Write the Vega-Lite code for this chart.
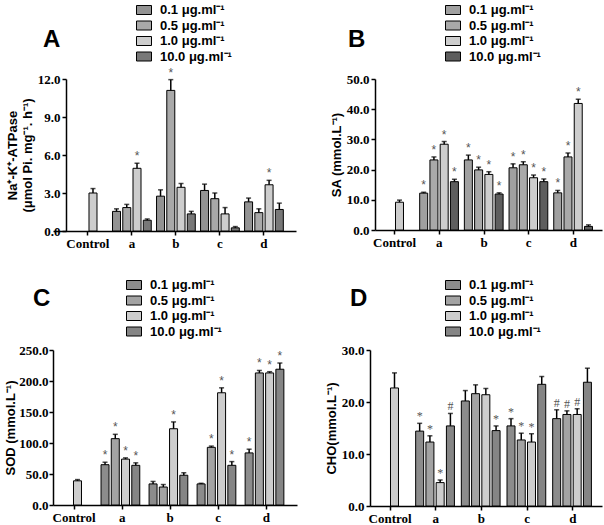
{
  "$schema": "https://vega.github.io/schema/vega-lite/v6.json",
  "padding": {"left": 4, "top": 2, "right": 2, "bottom": 0},
  "spacing": 27,
  "resolve": {"scale": {"fill": "independent"}, "legend": {"fill": "independent"}},
  "config": {
    "view": {"stroke": null},
    "axis": {"domainColor": "black", "domainWidth": 1.5, "tickColor": "black", "tickWidth": 1.5, "tickSize": 4, "grid": false, "labelOverlap": false, "labelFont": "Liberation Serif", "labelFontWeight": "bold", "labelFontSize": 13, "labelColor": "black", "titleFont": "Liberation Sans", "titleFontWeight": "bold", "titleFontSize": 13, "titleColor": "black"},
    "axisX": {"labelAngle": 0, "labelPadding": 2},
    "axisY": {"titlePadding": 3},
    "legend": {"orient": "none", "title": null, "symbolType": "M-1,-0.6H1V0.6H-1Z", "symbolSize": 225, "symbolStrokeColor": "black", "symbolStrokeWidth": 1, "labelFont": "Liberation Sans", "labelFontWeight": "bold", "labelFontSize": 13, "labelColor": "black", "rowPadding": 0.5, "labelOffset": 8, "padding": 0},
    "title": {"font": "Liberation Sans", "fontWeight": "bold", "fontSize": 24, "color": "black", "anchor": "start", "frame": "group", "baseline": "alphabetic"}
  },
  "datasets": {
    "A": [
      {"group": "Control", "conc": "1.0 μg.ml⁻¹", "value": 3.0, "err": 3.35, "sig": ""},
      {"group": "a", "conc": "0.1 μg.ml⁻¹", "value": 1.55, "err": 1.75, "sig": ""},
      {"group": "a", "conc": "0.5 μg.ml⁻¹", "value": 1.85, "err": 2.1, "sig": ""},
      {"group": "a", "conc": "1.0 μg.ml⁻¹", "value": 4.95, "err": 5.35, "sig": "*"},
      {"group": "a", "conc": "10.0 μg.ml⁻¹", "value": 0.85, "err": 0.95, "sig": ""},
      {"group": "b", "conc": "0.1 μg.ml⁻¹", "value": 2.75, "err": 3.25, "sig": ""},
      {"group": "b", "conc": "0.5 μg.ml⁻¹", "value": 11.1, "err": 11.95, "sig": "*"},
      {"group": "b", "conc": "1.0 μg.ml⁻¹", "value": 3.45, "err": 3.75, "sig": ""},
      {"group": "b", "conc": "10.0 μg.ml⁻¹", "value": 1.35, "err": 1.55, "sig": ""},
      {"group": "c", "conc": "0.1 μg.ml⁻¹", "value": 3.2, "err": 3.7, "sig": ""},
      {"group": "c", "conc": "0.5 μg.ml⁻¹", "value": 2.55, "err": 3.0, "sig": ""},
      {"group": "c", "conc": "1.0 μg.ml⁻¹", "value": 1.35, "err": 1.85, "sig": ""},
      {"group": "c", "conc": "10.0 μg.ml⁻¹", "value": 0.25, "err": 0.35, "sig": ""},
      {"group": "d", "conc": "0.1 μg.ml⁻¹", "value": 2.3, "err": 2.6, "sig": ""},
      {"group": "d", "conc": "0.5 μg.ml⁻¹", "value": 1.45, "err": 1.75, "sig": ""},
      {"group": "d", "conc": "1.0 μg.ml⁻¹", "value": 3.65, "err": 4.0, "sig": "*"},
      {"group": "d", "conc": "10.0 μg.ml⁻¹", "value": 1.7, "err": 2.2, "sig": ""}
    ],
    "B": [
      {"group": "Control", "conc": "1.0 μg.ml⁻¹", "value": 9.2, "err": 9.9, "sig": ""},
      {"group": "a", "conc": "0.1 μg.ml⁻¹", "value": 12.2, "err": 12.5, "sig": "*"},
      {"group": "a", "conc": "0.5 μg.ml⁻¹", "value": 23.2, "err": 24.2, "sig": "*"},
      {"group": "a", "conc": "1.0 μg.ml⁻¹", "value": 28.4, "err": 29.3, "sig": "*"},
      {"group": "a", "conc": "10.0 μg.ml⁻¹", "value": 16.0, "err": 16.8, "sig": "*"},
      {"group": "b", "conc": "0.1 μg.ml⁻¹", "value": 23.2, "err": 24.8, "sig": "*"},
      {"group": "b", "conc": "0.5 μg.ml⁻¹", "value": 19.9, "err": 20.8, "sig": "*"},
      {"group": "b", "conc": "1.0 μg.ml⁻¹", "value": 18.4, "err": 19.3, "sig": "*"},
      {"group": "b", "conc": "10.0 μg.ml⁻¹", "value": 11.9, "err": 12.3, "sig": "*"},
      {"group": "c", "conc": "0.1 μg.ml⁻¹", "value": 20.6, "err": 21.9, "sig": "*"},
      {"group": "c", "conc": "0.5 μg.ml⁻¹", "value": 21.6, "err": 22.6, "sig": "*"},
      {"group": "c", "conc": "1.0 μg.ml⁻¹", "value": 17.3, "err": 18.2, "sig": "*"},
      {"group": "c", "conc": "10.0 μg.ml⁻¹", "value": 16.0, "err": 16.9, "sig": "*"},
      {"group": "d", "conc": "0.1 μg.ml⁻¹", "value": 12.3, "err": 13.1, "sig": "*"},
      {"group": "d", "conc": "0.5 μg.ml⁻¹", "value": 24.2, "err": 25.5, "sig": "*"},
      {"group": "d", "conc": "1.0 μg.ml⁻¹", "value": 41.9, "err": 43.3, "sig": "*"},
      {"group": "d", "conc": "10.0 μg.ml⁻¹", "value": 1.2, "err": 1.7, "sig": ""}
    ],
    "C": [
      {"group": "Control", "conc": "1.0 μg.ml⁻¹", "value": 39, "err": 41, "sig": ""},
      {"group": "a", "conc": "0.1 μg.ml⁻¹", "value": 65, "err": 69, "sig": "*"},
      {"group": "a", "conc": "0.5 μg.ml⁻¹", "value": 107, "err": 114, "sig": "*"},
      {"group": "a", "conc": "1.0 μg.ml⁻¹", "value": 74, "err": 76, "sig": "*"},
      {"group": "a", "conc": "10.0 μg.ml⁻¹", "value": 64, "err": 68, "sig": "*"},
      {"group": "b", "conc": "0.1 μg.ml⁻¹", "value": 34, "err": 38, "sig": ""},
      {"group": "b", "conc": "0.5 μg.ml⁻¹", "value": 29, "err": 33, "sig": ""},
      {"group": "b", "conc": "1.0 μg.ml⁻¹", "value": 123, "err": 134, "sig": "*"},
      {"group": "b", "conc": "10.0 μg.ml⁻¹", "value": 48, "err": 52, "sig": ""},
      {"group": "c", "conc": "0.1 μg.ml⁻¹", "value": 34, "err": 35, "sig": ""},
      {"group": "c", "conc": "0.5 μg.ml⁻¹", "value": 93, "err": 95, "sig": "*"},
      {"group": "c", "conc": "1.0 μg.ml⁻¹", "value": 181, "err": 189, "sig": "*"},
      {"group": "c", "conc": "10.0 μg.ml⁻¹", "value": 64, "err": 70, "sig": "*"},
      {"group": "d", "conc": "0.1 μg.ml⁻¹", "value": 84, "err": 90, "sig": "*"},
      {"group": "d", "conc": "0.5 μg.ml⁻¹", "value": 213, "err": 217, "sig": "*"},
      {"group": "d", "conc": "1.0 μg.ml⁻¹", "value": 213, "err": 215, "sig": "*"},
      {"group": "d", "conc": "10.0 μg.ml⁻¹", "value": 219, "err": 229, "sig": "*"}
    ],
    "D": [
      {"group": "Control", "conc": "1.0 μg.ml⁻¹", "value": 22.7, "err": 25.6, "sig": ""},
      {"group": "a", "conc": "0.1 μg.ml⁻¹", "value": 14.4, "err": 15.9, "sig": "*"},
      {"group": "a", "conc": "0.5 μg.ml⁻¹", "value": 12.3, "err": 13.5, "sig": "*"},
      {"group": "a", "conc": "1.0 μg.ml⁻¹", "value": 4.5, "err": 5.0, "sig": "*"},
      {"group": "a", "conc": "10.0 μg.ml⁻¹", "value": 15.4, "err": 17.8, "sig": "#"},
      {"group": "b", "conc": "0.1 μg.ml⁻¹", "value": 20.2, "err": 22.2, "sig": ""},
      {"group": "b", "conc": "0.5 μg.ml⁻¹", "value": 21.6, "err": 23.3, "sig": ""},
      {"group": "b", "conc": "1.0 μg.ml⁻¹", "value": 21.4, "err": 22.6, "sig": ""},
      {"group": "b", "conc": "10.0 μg.ml⁻¹", "value": 14.5, "err": 15.4, "sig": "*"},
      {"group": "c", "conc": "0.1 μg.ml⁻¹", "value": 15.4, "err": 16.8, "sig": "*"},
      {"group": "c", "conc": "0.5 μg.ml⁻¹", "value": 12.7, "err": 14.0, "sig": "*"},
      {"group": "c", "conc": "1.0 μg.ml⁻¹", "value": 12.3, "err": 13.9, "sig": "*"},
      {"group": "c", "conc": "10.0 μg.ml⁻¹", "value": 23.4, "err": 24.9, "sig": ""},
      {"group": "d", "conc": "0.1 μg.ml⁻¹", "value": 16.8, "err": 18.5, "sig": "#"},
      {"group": "d", "conc": "0.5 μg.ml⁻¹", "value": 17.6, "err": 18.3, "sig": "#"},
      {"group": "d", "conc": "1.0 μg.ml⁻¹", "value": 17.6, "err": 18.7, "sig": "#"},
      {"group": "d", "conc": "10.0 μg.ml⁻¹", "value": 23.8, "err": 26.5, "sig": ""}
    ]
  },
  "vconcat": [
    {
      "spacing": 34,
      "resolve": {"scale": {"fill": "independent"}, "legend": {"fill": "independent"}},
      "hconcat": [
        {
          "width": 243, "height": 152,
          "title": {"text": "A", "dx": -10, "offset": -50},
          "data": {"name": "A"},
          "encoding": {
            "x": {"field": "group", "type": "nominal", "sort": ["Control", "a", "b", "c", "d"], "scale": {"paddingInner": 0.12, "paddingOuter": 0.32, "align": 0.55}, "axis": {"title": null}},
            "xOffset": {"field": "conc", "type": "nominal", "sort": ["0.1 μg.ml⁻¹", "0.5 μg.ml⁻¹", "1.0 μg.ml⁻¹", "10.0 μg.ml⁻¹"], "scale": {"paddingInner": 0.22}}
          },
          "layer": [
            {"mark": {"type": "bar", "stroke": "black", "strokeWidth": 1},
             "encoding": {
               "y": {"field": "value", "type": "quantitative", "scale": {"domain": [0, 12], "nice": false}, "axis": {"offset": -13, "values": [0, 3, 6, 9, 12], "format": ".1f", "title": ["Na⁺-K⁺-ATPase", "(μmol Pi. mg⁻¹. h⁻¹)"]}},
               "fill": {"field": "conc", "type": "nominal", "sort": ["0.1 μg.ml⁻¹", "0.5 μg.ml⁻¹", "1.0 μg.ml⁻¹", "10.0 μg.ml⁻¹"], "scale": {"range": ["#939393", "#a9a9a9", "#cdcdcd", "#787878"]}, "legend": {"legendX": 83, "legendY": -77}}
             }},
            {"mark": {"type": "rule", "strokeWidth": 1.5, "color": "black"},
             "encoding": {"y": {"field": "value", "type": "quantitative", "axis": {"offset": -13, "values": [0, 3, 6, 9, 12], "format": ".1f", "title": ["Na⁺-K⁺-ATPase", "(μmol Pi. mg⁻¹. h⁻¹)"]}}, "y2": {"field": "err"}}},
            {"mark": {"type": "tick", "size": 5, "thickness": 1.5, "color": "black"},
             "encoding": {"y": {"field": "err", "type": "quantitative", "axis": {"offset": -13, "values": [0, 3, 6, 9, 12], "format": ".1f", "title": ["Na⁺-K⁺-ATPase", "(μmol Pi. mg⁻¹. h⁻¹)"]}}}},
            {"mark": {"type": "text", "dy": -7, "fontSize": 12, "fill": "#555555", "font": "Liberation Sans"},
             "encoding": {"y": {"field": "err", "type": "quantitative", "axis": {"offset": -13, "values": [0, 3, 6, 9, 12], "format": ".1f", "title": ["Na⁺-K⁺-ATPase", "(μmol Pi. mg⁻¹. h⁻¹)"]}}, "text": {"field": "sig"}}}
          ]
        },
        {
          "width": 227, "height": 151,
          "title": {"text": "B", "dx": -27, "offset": -50},
          "data": {"name": "B"},
          "encoding": {
            "x": {"field": "group", "type": "nominal", "sort": ["Control", "a", "b", "c", "d"], "scale": {"paddingInner": 0.12, "paddingOuter": 0.1, "align": 0}, "axis": {"title": null}},
            "xOffset": {"field": "conc", "type": "nominal", "sort": ["0.1 μg.ml⁻¹", "0.5 μg.ml⁻¹", "1.0 μg.ml⁻¹", "10.0 μg.ml⁻¹"], "scale": {"paddingInner": 0.22}}
          },
          "layer": [
            {"mark": {"type": "bar", "stroke": "black", "strokeWidth": 1},
             "encoding": {
               "y": {"field": "value", "type": "quantitative", "scale": {"domain": [0, 50], "nice": false}, "axis": {"values": [0, 10, 20, 30, 40, 50], "format": ".1f", "title": "SA (mmol.L⁻¹)"}},
               "fill": {"field": "conc", "type": "nominal", "sort": ["0.1 μg.ml⁻¹", "0.5 μg.ml⁻¹", "1.0 μg.ml⁻¹", "10.0 μg.ml⁻¹"], "scale": {"range": ["#a0a0a0", "#a9a9a9", "#cdcdcd", "#5e5e5e"]}, "legend": {"legendX": 70, "legendY": -77}}
             }},
            {"mark": {"type": "rule", "strokeWidth": 1.5, "color": "black"},
             "encoding": {"y": {"field": "value", "type": "quantitative", "axis": {"values": [0, 10, 20, 30, 40, 50], "format": ".1f", "title": "SA (mmol.L⁻¹)"}}, "y2": {"field": "err"}}},
            {"mark": {"type": "tick", "size": 5, "thickness": 1.5, "color": "black"},
             "encoding": {"y": {"field": "err", "type": "quantitative", "axis": {"values": [0, 10, 20, 30, 40, 50], "format": ".1f", "title": "SA (mmol.L⁻¹)"}}}},
            {"mark": {"type": "text", "dy": -7, "fontSize": 12, "fill": "#555555", "font": "Liberation Sans"},
             "encoding": {"y": {"field": "err", "type": "quantitative", "axis": {"values": [0, 10, 20, 30, 40, 50], "format": ".1f", "title": "SA (mmol.L⁻¹)"}}, "text": {"field": "sig"}}}
          ]
        }
      ]
    },
    {
      "spacing": 28,
      "resolve": {"scale": {"fill": "independent"}, "legend": {"fill": "independent"}},
      "hconcat": [
        {
          "width": 244, "height": 155,
          "title": {"text": "C", "dx": -20, "offset": -34},
          "data": {"name": "C"},
          "encoding": {
            "x": {"field": "group", "type": "nominal", "sort": ["Control", "a", "b", "c", "d"], "scale": {"paddingInner": 0.12, "paddingOuter": 0.1, "align": 0}, "axis": {"title": null}},
            "xOffset": {"field": "conc", "type": "nominal", "sort": ["0.1 μg.ml⁻¹", "0.5 μg.ml⁻¹", "1.0 μg.ml⁻¹", "10.0 μg.ml⁻¹"], "scale": {"paddingInner": 0.22}}
          },
          "layer": [
            {"mark": {"type": "bar", "stroke": "black", "strokeWidth": 1},
             "encoding": {
               "y": {"field": "value", "type": "quantitative", "scale": {"domain": [0, 250], "nice": false}, "axis": {"values": [0, 50, 100, 150, 200, 250], "format": ".1f", "title": "SOD (mmol.L⁻¹)", "titlePadding": 1, "labelPadding": 1}},
               "fill": {"field": "conc", "type": "nominal", "sort": ["0.1 μg.ml⁻¹", "0.5 μg.ml⁻¹", "1.0 μg.ml⁻¹", "10.0 μg.ml⁻¹"], "scale": {"range": ["#8c8c8c", "#a3a3a3", "#cdcdcd", "#858585"]}, "legend": {"legendX": 73, "legendY": -73}}
             }},
            {"mark": {"type": "rule", "strokeWidth": 1.5, "color": "black"},
             "encoding": {"y": {"field": "value", "type": "quantitative", "axis": {"values": [0, 50, 100, 150, 200, 250], "format": ".1f", "title": "SOD (mmol.L⁻¹)", "titlePadding": 1, "labelPadding": 1}}, "y2": {"field": "err"}}},
            {"mark": {"type": "tick", "size": 5, "thickness": 1.5, "color": "black"},
             "encoding": {"y": {"field": "err", "type": "quantitative", "axis": {"values": [0, 50, 100, 150, 200, 250], "format": ".1f", "title": "SOD (mmol.L⁻¹)", "titlePadding": 1, "labelPadding": 1}}}},
            {"mark": {"type": "text", "dy": -7, "fontSize": 12, "fill": "#555555", "font": "Liberation Sans"},
             "encoding": {"y": {"field": "err", "type": "quantitative", "axis": {"values": [0, 50, 100, 150, 200, 250], "format": ".1f", "title": "SOD (mmol.L⁻¹)", "titlePadding": 1, "labelPadding": 1}}, "text": {"field": "sig"}}}
          ]
        },
        {
          "width": 232, "height": 156,
          "title": {"text": "D", "dx": -20, "offset": -34},
          "data": {"name": "D"},
          "encoding": {
            "x": {"field": "group", "type": "nominal", "sort": ["Control", "a", "b", "c", "d"], "scale": {"paddingInner": 0.12, "paddingOuter": 0.1, "align": 0}, "axis": {"title": null}},
            "xOffset": {"field": "conc", "type": "nominal", "sort": ["0.1 μg.ml⁻¹", "0.5 μg.ml⁻¹", "1.0 μg.ml⁻¹", "10.0 μg.ml⁻¹"], "scale": {"paddingInner": 0.22}}
          },
          "layer": [
            {"mark": {"type": "bar", "stroke": "black", "strokeWidth": 1},
             "encoding": {
               "y": {"field": "value", "type": "quantitative", "scale": {"domain": [0, 30], "nice": false}, "axis": {"values": [0, 10, 20, 30], "format": ".1f", "title": "CHO(mmol.L⁻¹)"}},
               "fill": {"field": "conc", "type": "nominal", "sort": ["0.1 μg.ml⁻¹", "0.5 μg.ml⁻¹", "1.0 μg.ml⁻¹", "10.0 μg.ml⁻¹"], "scale": {"range": ["#8c8c8c", "#a3a3a3", "#cdcdcd", "#858585"]}, "legend": {"legendX": 75, "legendY": -73}}
             }},
            {"mark": {"type": "rule", "strokeWidth": 1.5, "color": "black"},
             "encoding": {"y": {"field": "value", "type": "quantitative", "axis": {"values": [0, 10, 20, 30], "format": ".1f", "title": "CHO(mmol.L⁻¹)"}}, "y2": {"field": "err"}}},
            {"mark": {"type": "tick", "size": 5, "thickness": 1.5, "color": "black"},
             "encoding": {"y": {"field": "err", "type": "quantitative", "axis": {"values": [0, 10, 20, 30], "format": ".1f", "title": "CHO(mmol.L⁻¹)"}}}},
            {"mark": {"type": "text", "dy": -7, "fontSize": 12, "fill": "#555555", "font": "Liberation Serif"},
             "encoding": {"y": {"field": "err", "type": "quantitative", "axis": {"values": [0, 10, 20, 30], "format": ".1f", "title": "CHO(mmol.L⁻¹)"}}, "text": {"field": "sig"}}}
          ]
        }
      ]
    }
  ]
}
